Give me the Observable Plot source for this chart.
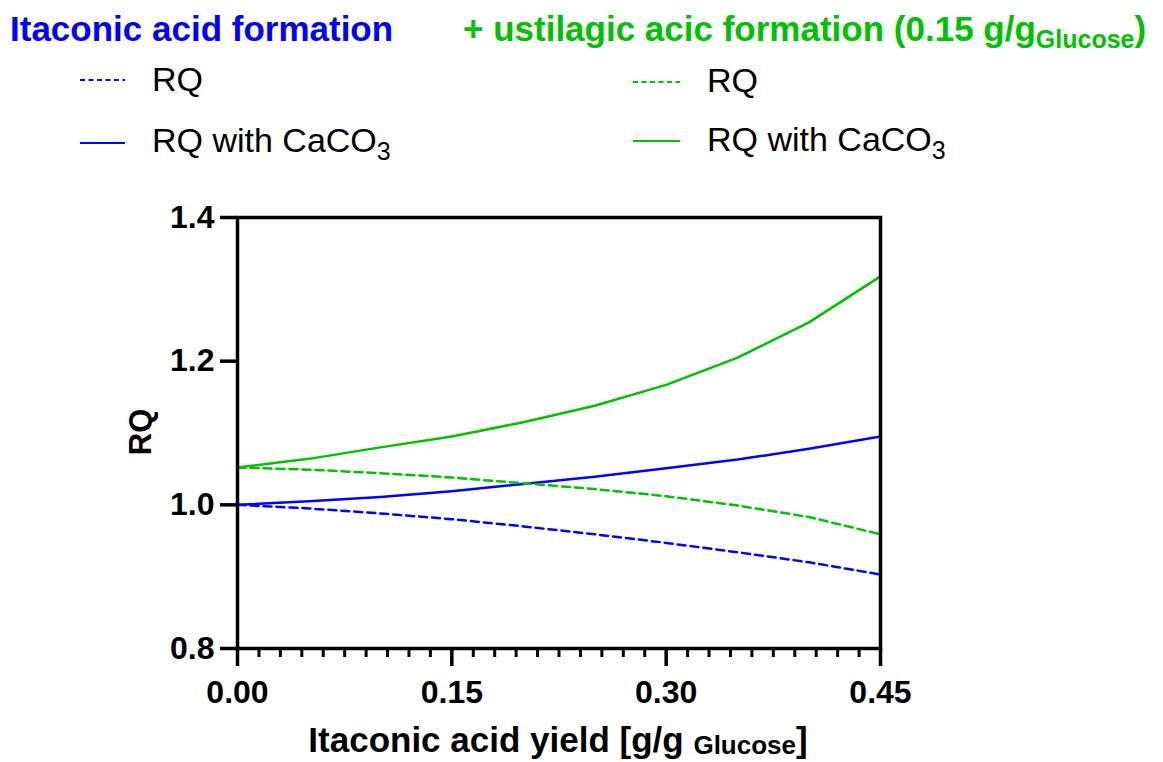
<!DOCTYPE html>
<html>
<head>
<meta charset="utf-8">
<script src="https://cdn.jsdelivr.net/npm/d3@7"></script>
<script src="https://cdn.jsdelivr.net/npm/@observablehq/plot@0.6"></script>
<style>
  html, body { margin: 0; padding: 0; background: #fff; }
  #wrap { width: 1163px; height: 762px; position: relative; overflow: hidden; font-family: "Liberation Sans", Arial, sans-serif; }
  #header { display: block; }
  #chart svg { display: block; }
</style>
</head>
<body>
<div id="wrap">
  <svg id="header" width="1163" height="180" xmlns="http://www.w3.org/2000/svg" font-family="Liberation Sans, Arial, sans-serif">
    <text x="10" y="41" font-size="35" font-weight="bold" fill="#0000ff">Itaconic acid formation</text>
    <text x="463" y="41" font-size="35" font-weight="bold" fill="#00c000">+ ustilagic acic formation (0.15 g/g<tspan font-size="25" dy="7">Glucose</tspan><tspan dy="-7">)</tspan></text>

    <line x1="80" x2="125" y1="80" y2="80" stroke="#0000ff" stroke-width="2" stroke-dasharray="5,3.5"></line>
    <text x="152" y="91" font-size="34" fill="#000">RQ</text>
    <line x1="80" x2="125" y1="143" y2="143" stroke="#0000ff" stroke-width="2"></line>
    <text x="152" y="152" font-size="34" fill="#000">RQ with CaCO<tspan font-size="25" dy="8">3</tspan></text>

    <line x1="633" x2="680" y1="82" y2="82" stroke="#00c000" stroke-width="2" stroke-dasharray="5,3.5"></line>
    <text x="707" y="92" font-size="34" fill="#000">RQ</text>
    <line x1="633" x2="680" y1="141" y2="141" stroke="#00c000" stroke-width="2"></line>
    <text x="707" y="151" font-size="34" fill="#000">RQ with CaCO<tspan font-size="25" dy="8">3</tspan></text>
  </svg>
  <div id="chart"></div>
</div>
<script>
// ---- data ----
const xYield = [0.00, 0.05, 0.10, 0.15, 0.20, 0.25, 0.30, 0.35, 0.40, 0.45];
const rqItaconic        = [1.000, 0.995, 0.988, 0.980, 0.970, 0.959, 0.947, 0.934, 0.920, 0.903];
const rqItaconicCaCO3   = [1.000, 1.005, 1.011, 1.019, 1.029, 1.039, 1.051, 1.063, 1.078, 1.095];
const rqUstilagic       = [1.052, 1.049, 1.044, 1.038, 1.030, 1.022, 1.012, 0.999, 0.983, 0.959];
const rqUstilagicCaCO3  = [1.052, 1.064, 1.080, 1.095, 1.115, 1.138, 1.167, 1.205, 1.254, 1.318];

const xMajorTicks = [0.00, 0.15, 0.30, 0.45];
const xMinorTicks = [0.015, 0.03, 0.045, 0.06, 0.075, 0.09, 0.105, 0.12, 0.135,
                     0.165, 0.18, 0.195, 0.21, 0.225, 0.24, 0.255, 0.27, 0.285,
                     0.315, 0.33, 0.345, 0.36, 0.375, 0.39, 0.405, 0.42, 0.435];
const yTicks = [0.8, 1.0, 1.2, 1.4];

const blue = "#0000ff";
const green = "#00c000";

const plot = Plot.plot({
  width: 1163,
  height: 582,
  marginLeft: 237,
  marginRight: 283,
  marginTop: 37,
  marginBottom: 114,
  style: { fontFamily: "Liberation Sans, Arial, sans-serif", fontSize: "31px", fontWeight: "bold", background: "white", color: "black" },
  x: { domain: [0, 0.45] },
  y: { domain: [0.8, 1.4] },
  marks: [
    Plot.line(rqItaconic, { x: xYield, y: rqItaconic, stroke: blue, strokeWidth: 2.5, strokeDasharray: "8,5" }),
    Plot.line(rqItaconicCaCO3, { x: xYield, y: rqItaconicCaCO3, stroke: blue, strokeWidth: 2.5 }),
    Plot.line(rqUstilagic, { x: xYield, y: rqUstilagic, stroke: green, strokeWidth: 2.5, strokeDasharray: "8,5" }),
    Plot.line(rqUstilagicCaCO3, { x: xYield, y: rqUstilagicCaCO3, stroke: green, strokeWidth: 2.5 }),
    Plot.axisX({ ticks: xMinorTicks, tickSize: 9, strokeWidth: 3, tickFormat: () => "", label: null }),
    Plot.axisX({ ticks: xMajorTicks, tickSize: 18, tickPadding: 14, strokeWidth: 3.5,
                 tickFormat: d3.format(".2f"), fontSize: 32, fontWeight: "bold", label: null }),
    Plot.axisY({ ticks: yTicks, tickSize: 17, tickPadding: 6, strokeWidth: 3.5,
                 tickFormat: d3.format(".1f"), fontSize: 32, fontWeight: "bold", label: null }),
    Plot.frame({ stroke: "black", strokeWidth: 3.5 })
  ]
});

const svg = d3.select(plot);
// x axis title with subscript
const xt = svg.append("text")
  .attr("x", 558).attr("y", 572)
  .attr("text-anchor", "middle")
  .attr("font-size", 35).attr("font-weight", "bold").attr("fill", "black");
xt.append("tspan").text("Itaconic acid yield [g/g ");
xt.append("tspan").attr("font-size", 26).attr("dy", 2).text("Glucose");
xt.append("tspan").attr("dy", -2).text("]");
// y axis title
svg.append("text")
  .attr("transform", "translate(151," + (432 - 180) + ") rotate(-90)")
  .attr("text-anchor", "middle")
  .attr("font-size", 31).attr("font-weight", "bold").attr("fill", "black")
  .text("RQ");

document.getElementById("chart").appendChild(plot);
</script>
</body>
</html>
